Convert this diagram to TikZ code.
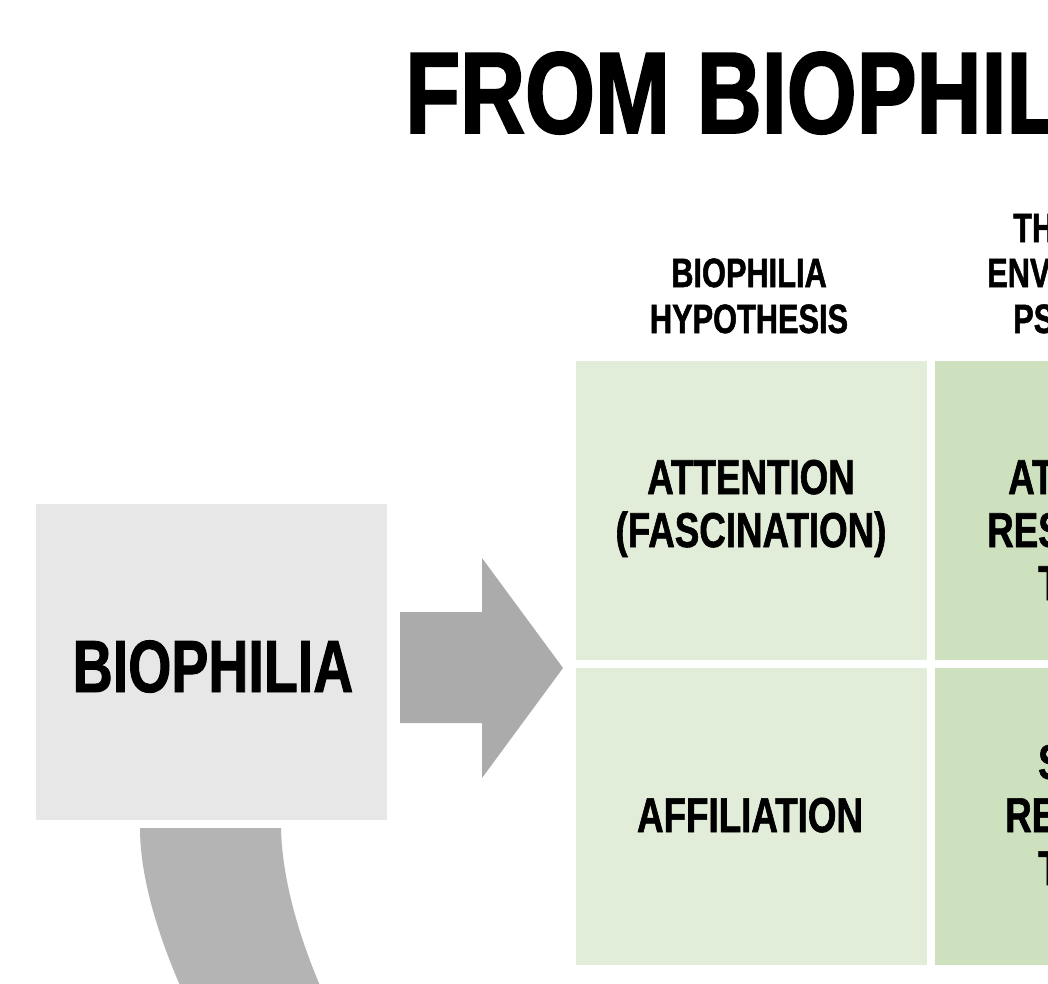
\documentclass[tikz,border=0pt]{standalone}
\usepackage{fontspec}
\newfontfamily\cond[FakeStretch=0.75,FakeBold=1.2,UprightFont={* Bold}]{Liberation Sans}
\newfontfamily\condT[FakeStretch=0.775,FakeBold=1.6,UprightFont={* Bold}]{Liberation Sans}
\definecolor{boxgrey}{HTML}{E7E7E7}
\definecolor{arrowgrey}{HTML}{ABABAB}
\definecolor{bandgrey}{HTML}{B4B4B4}
\definecolor{greenA}{HTML}{E2EDD9}
\definecolor{greenB}{HTML}{CEE1BE}
\begin{document}
\begin{tikzpicture}[x=1pt,y=-1pt,
  txt/.style={inner sep=0pt, text=black},
  title/.style={txt, font=\condT\fontsize{116}{116}\selectfont},
  big/.style={txt, font=\cond\fontsize{74}{74}\selectfont},
  head/.style={txt, font=\cond\fontsize{41}{46}\selectfont},
  body/.style={txt, font=\cond\fontsize{49}{53}\selectfont},
  cell/.style={inner sep=0pt, anchor=north west, minimum width=351pt}]
\useasboundingbox (0,0) rectangle (1048,983);
\clip (0,0) rectangle (1048,983);
\fill[white] (0,0) rectangle (1048,983);

% title
\node[title, anchor=base west] (ttl) at (405,133) {FROM\hspace{2pt} BIOPHIL};

% left box
\node[cell, fill=boxgrey, minimum width=351pt, minimum height=316pt] (bio) at (36,504) {};
\node[big, anchor=base] (biot) at (213,692) {BIOPHILIA};

% block arrow
\fill[arrowgrey] (400,612) -- (482,612) -- (482,558) -- (563,668) -- (482,778) -- (482,723) -- (400,723) -- cycle;

% curved band
\fill[bandgrey] (140,828) -- (281,828) .. controls (282,880) and (300,940) .. (322,990)
  -- (182,990) .. controls (160,940) and (140,880) .. (140,828) -- cycle;

% grid cells
\node[cell, fill=greenA, minimum height=299pt] (c11) at (576,361) {};
\node[cell, fill=greenB, minimum height=299pt] (c21) at (935,361) {};
\node[cell, fill=greenA, minimum height=297pt] (c12) at (576,668) {};
\node[cell, fill=greenB, minimum height=297pt] (c22) at (935,668) {};

% column headers
\node[head, anchor=base] (h1a) at (749,287) {BIOPHILIA};
\node[head, anchor=base] (h1b) at (749,333) {HYPOTHESIS};
\node[head, anchor=base west] (h2a) at (1013,242) {TH};
\node[head, anchor=base west] (h2b) at (987,287) {ENV};
\node[head, anchor=base west] (h2c) at (1013,333) {PS};

% column 1 texts
\node[body, anchor=base] (t11a) at (751,494) {ATTENTION};
\node[body, anchor=base] (t11b) at (751,547) {(FASCINATION)};
\node[body, anchor=base] (t12) at (750,832) {AFFILIATION};

% column 2 texts
\node[body, anchor=base west] (t21a) at (1008,494) {AT};
\node[body, anchor=base west] (t21b) at (987,547) {RES};
\node[body, anchor=base west] (t21c) at (1038,600) {T};
\node[body, anchor=base west] (t22a) at (1038,779) {S};
\node[body, anchor=base west] (t22b) at (1005,832) {RE};
\node[body, anchor=base west] (t22c) at (1038,885) {T};
\end{tikzpicture}
\end{document}
